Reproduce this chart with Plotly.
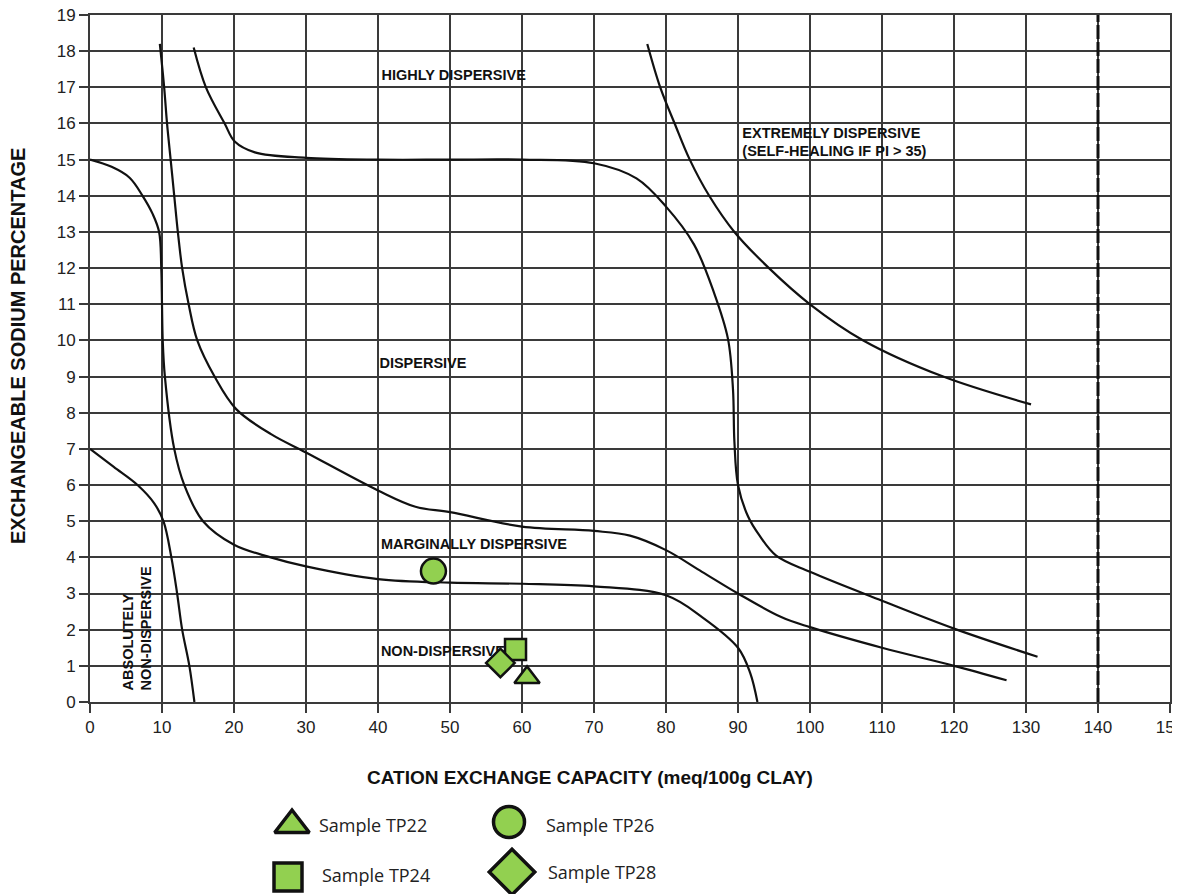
import plotly.graph_objects as go

# ---------------- data ----------------
# Boundary: absolutely non-dispersive / non-dispersive
curve_abs_x = [0, 3.3, 6.6, 8.9, 10.2, 11.3, 12.1, 12.8, 13.8, 14.5]
curve_abs_y = [7, 6.5, 6, 5.5, 5, 4, 3, 2, 1, 0]

# Boundary: non-dispersive / marginally dispersive
curve_nd_x = [0, 3.0, 5.5, 7.3, 8.7, 9.6, 9.9, 10.0, 10.1, 10.4, 11.7, 13.1, 15.7, 20, 25.1, 30, 40, 50, 60, 70, 80, 85, 90, 91.7, 92.7]
curve_nd_y = [15, 14.8, 14.5, 14, 13.5, 13, 12, 11, 10, 9, 7, 6, 5, 4.35, 4.0, 3.75, 3.4, 3.3, 3.27, 3.2, 2.95, 2.35, 1.5, 0.8, 0]

# Boundary: marginally dispersive / dispersive
curve_md_x = [9.7, 10.3, 10.7, 11.2, 11.7, 12.2, 12.8, 13.7, 14.9, 17.3, 20.3, 25.2, 30, 40, 45.2, 50, 60, 70, 75, 80, 85, 90, 96, 100, 110, 120, 127.3]
curve_md_y = [18.2, 17, 16, 15, 14, 13, 12, 11, 10, 9.0, 8.1, 7.4, 6.9, 5.85, 5.4, 5.25, 4.85, 4.73, 4.6, 4.2, 3.6, 3.0, 2.35, 2.07, 1.5, 1.0, 0.6]

# Boundary: dispersive / highly dispersive
curve_hd_x = [14.4, 16.1, 18.7, 20.1, 22.9, 30, 40, 50, 60, 70, 75.9, 80, 83.9, 86.7, 88.6, 89.3, 89.5, 90.0, 91.4, 93.0, 95.3, 100, 110, 120, 131.6]
curve_hd_y = [18.1, 17, 16, 15.5, 15.2, 15.05, 15, 15, 15, 14.9, 14.48, 13.7, 12.65, 11.3, 10.05, 8.66, 7.2, 6, 5.13, 4.6, 4.05, 3.6, 2.8, 2.03, 1.25]

# Boundary: highly dispersive / extremely dispersive
curve_xd_x = [77.4, 79.2, 81.2, 83.3, 86.0, 89.5, 94.3, 100, 107.4, 118.5, 130.7]
curve_xd_y = [18.2, 17, 16, 15, 14, 13, 12, 11, 10, 9.0, 8.23]

# Vertical dashed limit line
limit_cec = 140
limit_esp = [0, 19]

# Samples
sample_names = ["Sample TP24", "Sample TP28", "Sample TP22", "Sample TP26"]
sample_cec = [59.1, 57.0, 60.7, 47.7]
sample_esp = [1.45, 1.08, 0.68, 3.62]
sample_symbols = ["square", "diamond", "triangle-up", "circle"]

# Zone labels
zone_text = ["HIGHLY DISPERSIVE", "DISPERSIVE", "MARGINALLY DISPERSIVE", "NON-DISPERSIVE",
             "EXTREMELY DISPERSIVE<br>(SELF-HEALING IF PI &gt; 35)"]
zone_x = [40.5, 40.2, 40.4, 40.4, 90.6]
zone_y = [17.3, 9.35, 4.33, 1.38, 15.45]

x_ticks = list(range(0, 151, 10))
y_ticks = list(range(0, 20, 1))

# ---------------- style / layout ----------------
W, H = 1180, 894
OFF = 8                      # page body margin of the generated html
PL, PR, PT, PB = 90, 1170, 15, 702   # wanted plot box in page pixels
ML = PL - OFF
MR = W - (PR - OFF)
MT = PT - OFF
MB = 0
FONT = "Liberation Sans"
GREEN = "#92D050"
INK = "#111111"
GRID = "#3a3a3a"

plot_h = H - MT - MB
plot_w = W - ML - MR
fig_bottom_page = H + OFF
main_bottom = (fig_bottom_page - PB) / plot_h


def paper_x(px):
    return (px - PL) / plot_w


def paper_y(py):
    return (fig_bottom_page - py) / plot_h


# custom legend layout (page pixel positions)
legend_order = ["Sample TP22", "Sample TP26", "Sample TP24", "Sample TP28"]
legend_marker_pos = {"Sample TP22": (292, 825), "Sample TP26": (509, 822),
                     "Sample TP24": (288, 877), "Sample TP28": (512, 872)}
legend_label_pos = {"Sample TP22": (317, 825), "Sample TP26": (544, 825),
                    "Sample TP24": (320, 875), "Sample TP28": (546, 872)}
legend_sizes = {"square": 28, "diamond": 35, "triangle-up": 30, "circle": 31}
main_sizes = {"square": 21, "diamond": 22, "triangle-up": 22, "circle": 25}
LEG_FRAC = 0.14

fig = go.Figure()

for cx, cy in [(curve_abs_x, curve_abs_y), (curve_nd_x, curve_nd_y), (curve_md_x, curve_md_y),
               (curve_hd_x, curve_hd_y), (curve_xd_x, curve_xd_y)]:
    fig.add_trace(go.Scatter(x=cx, y=cy, mode="lines",
                             line=dict(color=INK, width=2.2, shape="spline", smoothing=1.0),
                             hoverinfo="skip", showlegend=False))

fig.add_trace(go.Scatter(x=[limit_cec, limit_cec], y=limit_esp, mode="lines",
                         line=dict(color=INK, width=3, dash="14px,3px"),
                         hoverinfo="skip", showlegend=False))

fig.add_trace(go.Scatter(x=zone_x, y=zone_y, mode="text",
                         text=["<b>" + t + "</b>" for t in zone_text],
                         textposition="middle right",
                         textfont=dict(family=FONT, size=14.5, color=INK),
                         hoverinfo="skip", showlegend=False))

for name, cx, cy, sym in zip(sample_names, sample_cec, sample_esp, sample_symbols):
    fig.add_trace(go.Scatter(x=[cx], y=[cy], mode="markers", name=name,
                             marker=dict(symbol=sym, size=main_sizes[sym], color=GREEN,
                                         line=dict(color=INK, width=2.5)),
                             showlegend=False))

# custom legend keys
sym_of = dict(zip(sample_names, sample_symbols))
for name in legend_order:
    sym = sym_of[name]
    mx, my = legend_marker_pos[name]
    fig.add_trace(go.Scatter(x=[mx - PL], y=[fig_bottom_page - my], mode="markers",
                             xaxis="x2", yaxis="y2",
                             marker=dict(symbol=sym, size=legend_sizes[sym], color=GREEN,
                                         line=dict(color=INK, width=3.5)),
                             hoverinfo="skip", showlegend=False))
    tx, ty = legend_label_pos[name]
    fig.add_annotation(x=tx - PL, y=fig_bottom_page - ty, xref="x2", yref="y2", text=name,
                       showarrow=False, xanchor="left", yanchor="middle",
                       font=dict(family="Open Sans", size=18, color="#222"))

# rotated zone label
fig.add_annotation(x=6.6, y=0.25, xref="x", yref="y", text="<b>ABSOLUTELY<br>NON-DISPERSIVE</b>",
                   textangle=-90, showarrow=False, xanchor="center", yanchor="bottom",
                   align="left", font=dict(family=FONT, size=14.5, color=INK))

# axis titles
fig.add_annotation(x=paper_x(18), y=paper_y(346), xref="paper", yref="paper",
                   text="<b>EXCHANGEABLE SODIUM PERCENTAGE</b>", textangle=-90, showarrow=False,
                   xanchor="center", yanchor="middle", font=dict(family=FONT, size=20, color=INK))
fig.add_annotation(x=paper_x(590), y=paper_y(777), xref="paper", yref="paper",
                   text="<b>CATION EXCHANGE CAPACITY (meq/100g CLAY)</b>", showarrow=False,
                   xanchor="center", yanchor="middle", font=dict(family=FONT, size=19, color=INK))

axis_common = dict(showgrid=True, gridcolor=GRID, gridwidth=1.7, zeroline=False,
                   showline=True, linecolor=GRID, linewidth=1.7, mirror=True,
                   ticks="outside", ticklen=9, tickwidth=1.7, tickcolor=GRID,
                   ticklabeloverflow="allow",
                   tickfont=dict(family=FONT, size=17, color="#222"), automargin=False)

fig.update_layout(
    width=W, height=H,
    margin=dict(l=ML, r=MR, t=MT, b=MB, autoexpand=False),
    paper_bgcolor="white", plot_bgcolor="white",
    showlegend=False,
    xaxis=dict(range=[0, 150], tickvals=x_ticks, domain=[0, 1], anchor="y", **axis_common),
    yaxis=dict(range=[0, 19], tickvals=y_ticks, domain=[main_bottom, 1], anchor="x", **axis_common),
    xaxis2=dict(range=[0, plot_w], domain=[0, 1], anchor="y2", visible=False, fixedrange=True),
    yaxis2=dict(range=[0, LEG_FRAC * plot_h], domain=[0, LEG_FRAC], anchor="x2",
                visible=False, fixedrange=True),
)

fig.write_html("out.html")
